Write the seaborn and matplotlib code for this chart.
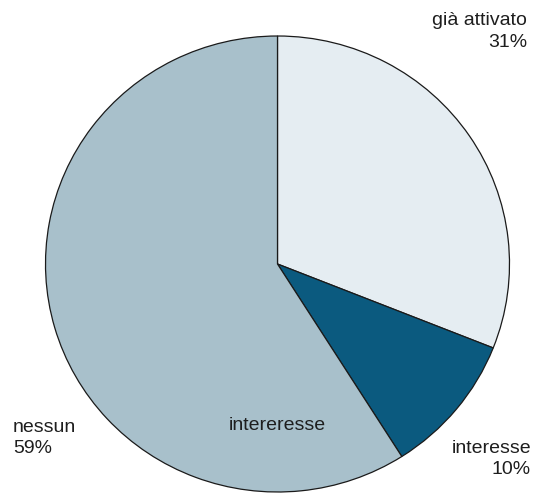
import matplotlib
matplotlib.use('Agg')
import matplotlib.pyplot as plt
import seaborn as sns

# Data
categories = ["già attivato", "interesse", "nessun"]
shares = [31, 10, 59]
slice_colors = ["#e5edf2", "#0b5a7f", "#a8c0cb"]
inner_label = "intereresse"

sns.set_theme(style="white")
plt.rcParams['font.family'] = ['Liberation Sans', 'DejaVu Sans']

W, H = 537, 493
# the original pie is slightly squashed vertically (232 px wide radius, 228 px tall)
sy = 232 / 228

fig = plt.figure(figsize=(W / 100, H / 100), dpi=100)
ax = fig.add_axes([0, 0, 1, 1])

cx, cy, r = 277.5, (H - 264) * sy, 232
ax.pie(shares, colors=slice_colors, startangle=90, counterclock=False,
       center=(cx, cy), radius=r, frame=True,
       wedgeprops=dict(edgecolor="#1a1a1a", linewidth=0.9))
ax.set_xlim(0, W)
ax.set_ylim(0, H * sy)
ax.set_aspect('auto')
ax.axis('off')

txt = dict(fontsize=14, color="#1e1e1e", va="baseline")

# label positions (pixels from top-left): x, name baseline, pct baseline, alignment
label_pos = {
    "già attivato": (527, 25, 47, "right"),
    "interesse": (531, 453, 474, "right"),
    "nessun": (13, 432, 453, "left"),
}
for name, val in zip(categories, shares):
    x, y1, y2, ha = label_pos[name]
    ax.text(x, (H - y1) * sy, name, ha=ha, **txt)
    ax.text(x, (H - y2) * sy, f"{val}%", ha=ha, **txt)

ax.text(cx, (H - 430) * sy, inner_label, ha="center", **txt)

fig.savefig("out.png", dpi=100)
